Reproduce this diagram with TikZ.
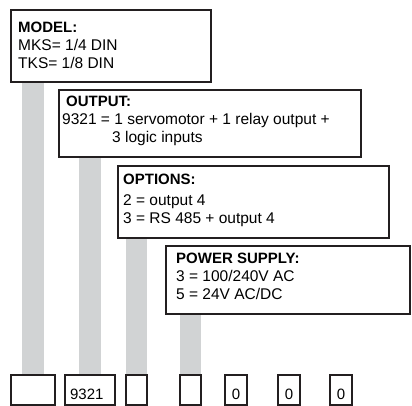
\documentclass[tikz,border=0pt]{standalone}
\usepackage{fontspec}
\setmainfont{Liberation Sans}
\usepackage{xcolor}
\usetikzlibrary{backgrounds}
\definecolor{ocink}{HTML}{231F20}
\definecolor{ocbar}{HTML}{D1D3D4}

\begin{document}
\begin{tikzpicture}[x=1pt, y=-1pt,
  panel/.style={draw=ocink, line width=2.2pt, fill=white, inner sep=0pt, anchor=north west},
  slot/.style={draw=ocink, line width=2.2pt, fill=white, inner sep=0pt, anchor=north west, minimum height=30pt, text height=18pt, text depth=0pt, font=\fontsize{15}{16}\selectfont},
  head/.style={anchor=base west, inner sep=0pt, font=\fontsize{15}{18}\selectfont\bfseries},
  body/.style={anchor=base west, inner sep=0pt, font=\fontsize{15.5}{18}\selectfont},
  bar/.style={draw=ocbar, line width=21.5pt}]
  \useasboundingbox (0,0) rectangle (412,406);

  % the four code fields
  \node[panel, minimum width=200pt, minimum height=72pt] (model) at (10,9) {};
  \node[panel, minimum width=302pt, minimum height=67pt] (output) at (58,89) {};
  \node[panel, minimum width=271pt, minimum height=72pt] (options) at (117,165) {};
  \node[panel, minimum width=244pt, minimum height=68pt] (power) at (165,245) {};

  \node[head] (modelh) at (18,33) {MODEL:};
  \node[body] (model1) at (18,51) {MKS= 1/4 DIN};
  \node[body] (model2) at (18,69) {TKS= 1/8 DIN};

  \node[head] (outputh) at (66,107) {OUTPUT:};
  \node[body] (output1) at (62,125) {9321 = 1 servomotor + 1 relay output +};
  \node[body] (output2) at (112,143) {3 logic inputs};

  \node[head] (optionsh) at (123,185) {OPTIONS:};
  \node[body] (options1) at (123,205) {2 = output 4};
  \node[body] (options2) at (123,223) {3 = RS 485 + output 4};

  \node[head] (powerh) at (176,263) {POWER SUPPLY:};
  \node[body] (power1) at (176,281) {3 = 100/240V AC};
  \node[body] (power2) at (176,299) {5 = 24V AC/DC};

  % order code slots
  \node[slot, minimum width=44pt] (s1) at (10,374) {};
  \node[slot, minimum width=50pt, text width=40pt, inner xsep=5pt, align=left] (s2) at (64,374) {9321};
  \node[slot, minimum width=21pt] (s3) at (125,374) {};
  \node[slot, minimum width=21pt] (s4) at (179,374) {};
  \node[slot, minimum width=22pt] (s5) at (224,374) {0};
  \node[slot, minimum width=22pt] (s6) at (277,374) {0};
  \node[slot, minimum width=22pt] (s7) at (329,374) {0};

  \begin{scope}[on background layer]
    \draw[bar] (s1.north) -- (s1.north |- model.south);
    \draw[bar] (s2.north) -- (s2.north |- output.south);
    \draw[bar] (s3.north) -- (s3.north |- options.south);
    \draw[bar] (s4.north) -- (s4.north |- power.south);
  \end{scope}
\end{tikzpicture}
\end{document}
